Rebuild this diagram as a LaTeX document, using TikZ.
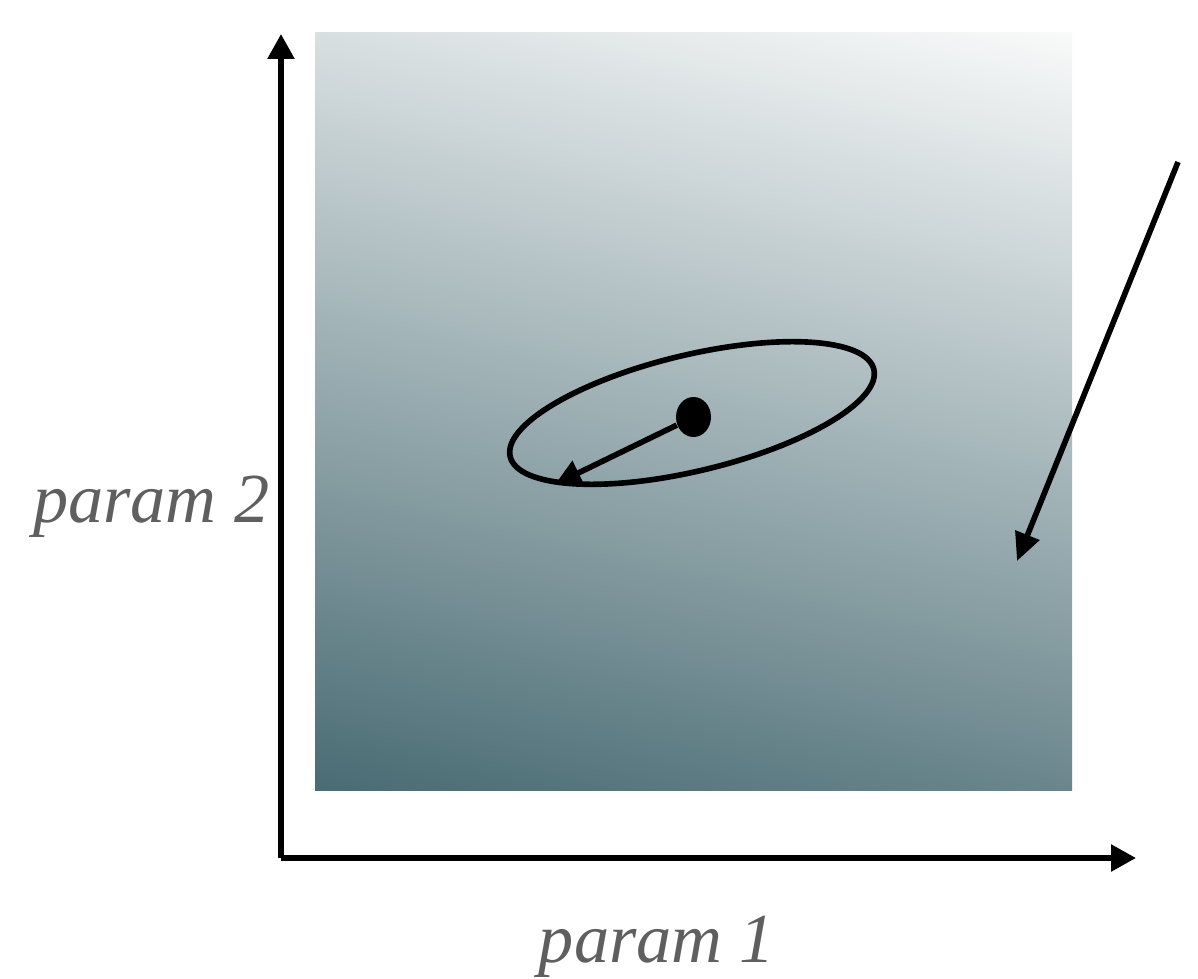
\documentclass[tikz,border=0pt]{standalone}
\usepackage{fontspec}
\newfontfamily\labelfont{Liberation Serif}
\usepackage{tikz}
\usetikzlibrary{shapes.geometric, arrows.meta, positioning, calc}
\definecolor{shadetop}{RGB}{248,249,249}
\definecolor{shademid}{RGB}{161,179,183}
\definecolor{shadebot}{RGB}{74,108,116}
\definecolor{labelgray}{RGB}{95,95,95}
\tikzset{
  % axes and arrows
  axis/.style={line width=1.6pt, -{Triangle[length=0.25cm, width=0.26cm]}},
  pointer/.style={line width=1.6pt, -{Triangle[length=0.28cm, width=0.25cm]}},
  % text and marks
  axislabel/.style={font=\labelfont\itshape\fontsize{20}{24}\selectfont, text=labelgray, inner sep=0pt},
  spread/.style={ellipse, draw=black, line width=1.6pt, minimum width=3.74cm, minimum height=1.16cm, inner sep=0pt},
  centre/.style={ellipse, fill=black, minimum width=0.35cm, minimum height=0.40cm, inner sep=0pt},
}
\begin{document}
\begin{tikzpicture}
    \useasboundingbox (0,0) rectangle (11.98,9.78);

    % Background field (larger square, clipped, so the tilted gradient spans the corners)
    \begin{scope}
      \clip (3.15,1.88) rectangle (10.72,9.45);
      \shade[top color=shadetop, middle color=shademid, bottom color=shadebot, shading angle=-13]
        (2.395,1.125) rectangle (11.475,10.205);
    \end{scope}

    % Axes
    \coordinate (origin) at (2.81,1.20);
    \coordinate (ytip) at (2.81,9.44);
    \coordinate (xtip) at (11.36,1.20);
    \draw[axis] (origin) -- (ytip);
    \draw[axis] (origin) -- (xtip);

    % Labels
    \node[axislabel, anchor=base east] (ylabel) at (2.70,4.56) {param 2};
    \node[axislabel, anchor=base] (xlabel) at (6.57,0.16) {param 1};

    % Ellipse and centre
    \node[spread, rotate=13.5] (ell) at (6.92,5.65) {};
    \node[centre] (mean) at (6.935,5.61) {};
    \draw[pointer, -{Triangle[length=0.26cm, width=0.26cm]}] (mean) -- (ell.194.5);

    % Long pointer
    \coordinate (hint) at (11.78,8.16);
    \coordinate (target) at (10.17,4.17);
    \draw[pointer] (hint) -- (target);
\end{tikzpicture}
\end{document}
